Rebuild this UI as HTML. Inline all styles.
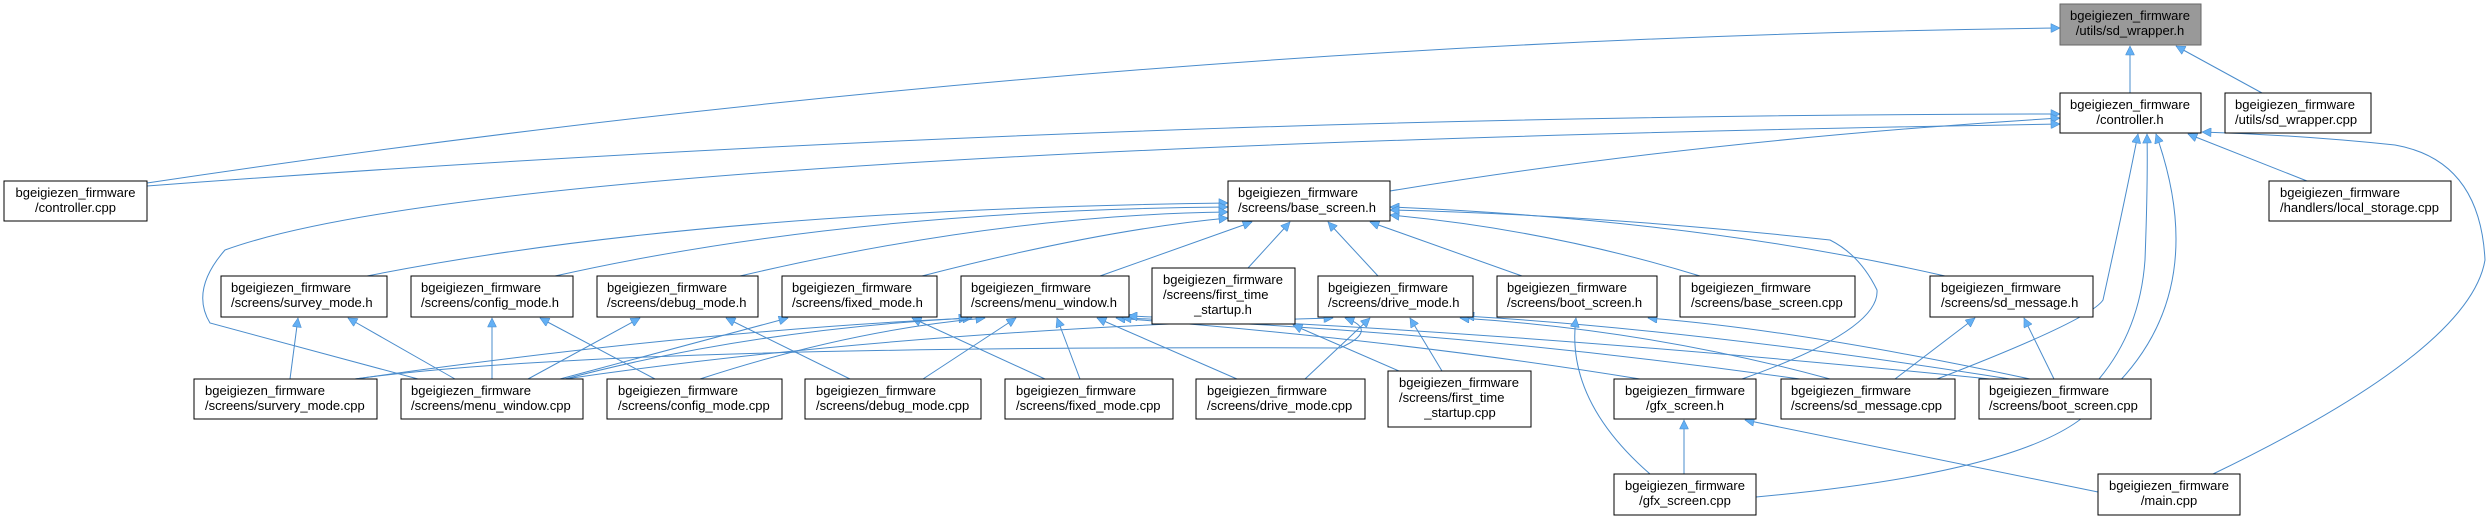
<!DOCTYPE html>
<html><head><meta charset="utf-8"><style>
html,body{margin:0;padding:0;background:#fff}
svg{display:block}
text{font-family:"Liberation Sans",Arial,sans-serif;font-size:13px;fill:#000}
.b{fill:#fff;stroke:#000;stroke-width:1}
.e{fill:none;stroke:#4a8ccc;stroke-width:1}
</style></head><body>
<svg width="2490" height="520" viewBox="0 0 2490 520" xmlns="http://www.w3.org/2000/svg">
<defs>
<marker id="a" viewBox="0 0 10 10" refX="10" refY="5" markerWidth="11" markerHeight="9" markerUnits="userSpaceOnUse" orient="auto">
<path d="M0,0 L10,5 L0,10 z" fill="#63b0f5" stroke="#4a8ccc" stroke-width="0.6"/>
</marker>
</defs>
<g class="e" marker-end="url(#a)">
<!-- to sd_wrapper.h -->
<path d="M2130,93 L2130,46"/>
<path d="M2262,93 L2176,46"/>
<path d="M147,183 Q1100,40 2060,28"/>
<!-- to controller.h -->
<path d="M147,186 Q1100,115 2060,114"/>
<path d="M1390,191 Q1700,140 2060,118"/>
<path d="M418,379 L210,323 Q190,290 225,250 Q500,150 2060,124"/>
<path d="M2307,181 L2188,134"/>
<path d="M1937,379 Q2090,320 2103,300 Q2125,200 2138,134"/>
<path d="M2099,379 Q2140,330 2145,260 Q2148,180 2147,134"/>
<path d="M1756,497 Q2050,470 2100,400 Q2215,300 2156,134"/>
<path d="M2213,474 Q2470,350 2485,260 Q2480,160 2395,145 Q2300,135 2202,132"/>
<!-- to base_screen.h -->
<path d="M367,276 Q700,210 1228,203"/>
<path d="M555,276 Q850,210 1228,207"/>
<path d="M740,276 Q1000,215 1228,212"/>
<path d="M922,276 Q1100,230 1228,218"/>
<path d="M1100,276 L1252,222"/>
<path d="M1248,268 L1290,222"/>
<path d="M1378,276 L1328,222"/>
<path d="M1522,276 L1370,222"/>
<path d="M1700,276 Q1550,230 1390,215"/>
<path d="M1945,276 Q1700,220 1390,207"/>
<path d="M1742,379 Q1880,330 1877,290 Q1860,255 1830,240 Q1600,215 1390,210"/>
<!-- survey_mode.h -->
<path d="M290,379 L298,318"/>
<path d="M455,379 L348,318"/>
<!-- config_mode.h -->
<path d="M492,379 L492,318"/>
<path d="M655,379 L540,318"/>
<!-- debug_mode.h -->
<path d="M528,379 L640,318"/>
<path d="M850,379 L726,318"/>
<!-- fixed_mode.h -->
<path d="M560,379 L788,318"/>
<path d="M1045,379 L912,318"/>
<!-- menu_window.h -->
<path d="M355,379 Q700,330 972,318"/>
<path d="M565,379 Q750,330 968,318"/>
<path d="M700,379 Q850,330 985,318"/>
<path d="M923,379 L1016,318"/>
<path d="M1080,379 L1057,318"/>
<path d="M1237,379 L1097,318"/>
<path d="M1640,379 Q1400,340 1116,318"/>
<path d="M1800,379 Q1450,330 1122,318"/>
<path d="M1990,379 Q1500,330 1128,316"/>
<!-- first_time_startup.h -->
<path d="M1399,371 L1293,325"/>
<!-- drive_mode.h -->
<path d="M565,379 Q900,330 1333,318"/>
<path d="M355,379 Q600,345 1340,348 Q1380,330 1345,318"/>
<path d="M1305,379 L1370,318"/>
<path d="M1442,371 L1410,318"/>
<path d="M1830,379 Q1650,330 1460,318"/>
<path d="M2010,379 Q1700,330 1465,316"/>
<!-- boot_screen.h -->
<path d="M1650,474 Q1565,400 1576,318"/>
<path d="M2030,379 Q1800,330 1648,318"/>
<!-- sd_message.h -->
<path d="M1895,379 L1975,318"/>
<path d="M2054,379 L2024,318"/>
<!-- gfx_screen.h -->
<path d="M1684,474 L1684,420"/>
<path d="M2098,492 L1745,420"/>
</g>
<!-- nodes -->
<rect x="2060" y="4" width="141" height="41" fill="#999" stroke="#666"/>
<text x="2130" y="20" text-anchor="middle">bgeigiezen_firmware</text><text x="2130" y="35" text-anchor="middle">/utils/sd_wrapper.h</text>

<rect class="b" x="2060" y="93" width="141" height="40"/>
<text x="2130" y="109" text-anchor="middle">bgeigiezen_firmware</text><text x="2130" y="124" text-anchor="middle">/controller.h</text>

<rect class="b" x="2225" y="93" width="146" height="40"/>
<text x="2235" y="109">bgeigiezen_firmware</text><text x="2235" y="124">/utils/sd_wrapper.cpp</text>

<rect class="b" x="4" y="181" width="143" height="40"/>
<text x="75.5" y="197" text-anchor="middle">bgeigiezen_firmware</text><text x="75.5" y="212" text-anchor="middle">/controller.cpp</text>

<rect class="b" x="1228" y="181" width="162" height="40"/>
<text x="1238" y="197">bgeigiezen_firmware</text><text x="1238" y="212">/screens/base_screen.h</text>

<rect class="b" x="2269" y="181" width="182" height="40"/>
<text x="2280" y="197">bgeigiezen_firmware</text><text x="2280" y="212">/handlers/local_storage.cpp</text>

<rect class="b" x="221" y="276" width="166" height="41"/>
<text x="231" y="292">bgeigiezen_firmware</text><text x="231" y="307">/screens/survey_mode.h</text>

<rect class="b" x="411" y="276" width="162" height="41"/>
<text x="421" y="292">bgeigiezen_firmware</text><text x="421" y="307">/screens/config_mode.h</text>

<rect class="b" x="597" y="276" width="161" height="41"/>
<text x="607" y="292">bgeigiezen_firmware</text><text x="607" y="307">/screens/debug_mode.h</text>

<rect class="b" x="782" y="276" width="155" height="41"/>
<text x="792" y="292">bgeigiezen_firmware</text><text x="792" y="307">/screens/fixed_mode.h</text>

<rect class="b" x="961" y="276" width="168" height="41"/>
<text x="971" y="292">bgeigiezen_firmware</text><text x="971" y="307">/screens/menu_window.h</text>

<rect class="b" x="1152" y="268" width="143" height="56"/>
<text x="1163" y="284">bgeigiezen_firmware</text><text x="1163" y="299">/screens/first_time</text><text x="1223" y="314" text-anchor="middle">_startup.h</text>

<rect class="b" x="1318" y="276" width="155" height="41"/>
<text x="1328" y="292">bgeigiezen_firmware</text><text x="1328" y="307">/screens/drive_mode.h</text>

<rect class="b" x="1497" y="276" width="160" height="41"/>
<text x="1507" y="292">bgeigiezen_firmware</text><text x="1507" y="307">/screens/boot_screen.h</text>

<rect class="b" x="1680" y="276" width="175" height="41"/>
<text x="1691" y="292">bgeigiezen_firmware</text><text x="1691" y="307">/screens/base_screen.cpp</text>

<rect class="b" x="1930" y="276" width="163" height="41"/>
<text x="1941" y="292">bgeigiezen_firmware</text><text x="1941" y="307">/screens/sd_message.h</text>

<rect class="b" x="194" y="379" width="183" height="40"/>
<text x="205" y="395">bgeigiezen_firmware</text><text x="205" y="410">/screens/survery_mode.cpp</text>

<rect class="b" x="401" y="379" width="182" height="40"/>
<text x="411" y="395">bgeigiezen_firmware</text><text x="411" y="410">/screens/menu_window.cpp</text>

<rect class="b" x="607" y="379" width="175" height="40"/>
<text x="618" y="395">bgeigiezen_firmware</text><text x="618" y="410">/screens/config_mode.cpp</text>

<rect class="b" x="805" y="379" width="176" height="40"/>
<text x="816" y="395">bgeigiezen_firmware</text><text x="816" y="410">/screens/debug_mode.cpp</text>

<rect class="b" x="1005" y="379" width="168" height="40"/>
<text x="1016" y="395">bgeigiezen_firmware</text><text x="1016" y="410">/screens/fixed_mode.cpp</text>

<rect class="b" x="1196" y="379" width="169" height="40"/>
<text x="1207" y="395">bgeigiezen_firmware</text><text x="1207" y="410">/screens/drive_mode.cpp</text>

<rect class="b" x="1388" y="371" width="143" height="56"/>
<text x="1399" y="387">bgeigiezen_firmware</text><text x="1399" y="402">/screens/first_time</text><text x="1460" y="417" text-anchor="middle">_startup.cpp</text>

<rect class="b" x="1614" y="379" width="142" height="40"/>
<text x="1685" y="395" text-anchor="middle">bgeigiezen_firmware</text><text x="1685" y="410" text-anchor="middle">/gfx_screen.h</text>

<rect class="b" x="1781" y="379" width="174" height="40"/>
<text x="1791" y="395">bgeigiezen_firmware</text><text x="1791" y="410">/screens/sd_message.cpp</text>

<rect class="b" x="1979" y="379" width="172" height="40"/>
<text x="1989" y="395">bgeigiezen_firmware</text><text x="1989" y="410">/screens/boot_screen.cpp</text>

<rect class="b" x="1614" y="474" width="142" height="41"/>
<text x="1685" y="490" text-anchor="middle">bgeigiezen_firmware</text><text x="1685" y="505" text-anchor="middle">/gfx_screen.cpp</text>

<rect class="b" x="2098" y="474" width="142" height="41"/>
<text x="2169" y="490" text-anchor="middle">bgeigiezen_firmware</text><text x="2169" y="505" text-anchor="middle">/main.cpp</text>
</svg>
</body></html>
